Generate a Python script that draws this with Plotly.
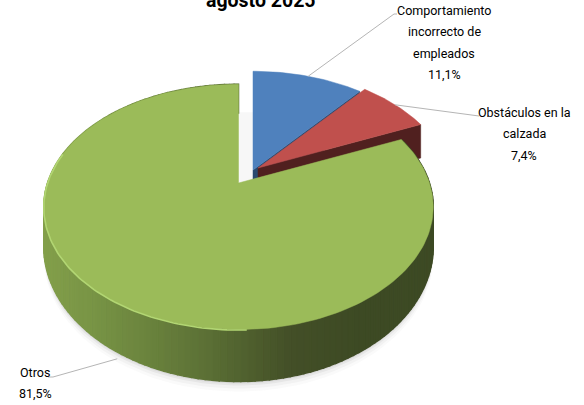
import numpy as np
import plotly.graph_objects as go

# data
labels = [["Comportamiento", "incorrecto de", "empleados"], ["Obstáculos en la", "calzada"], ["Otros"]]
values = [11.1, 7.4, 81.5]
title_text = "agosto 2025"

top_colors = ["#4f81bd", "#c0504d", "#9bbb59"]
cut_colors = ["#2b4a70", "#50201f", "#5f7536"]

# tilted pie: apex of each (exploded) slice on the page
apex = [(253, 170), (258, 168), (238.5, 183)]
R, K, P, D = 191, 118, 0.195, 37.5

# label blocks: centre x, first line y
label_pos = [(444, 10), (524, 112), (35, 372)]
leader_end = [(394, 14), (476, 116), (53, 377)]
LINE = 21.5
FONT = "Roboto"


def project(apx, ang, r=1.0, depth=False):
    # ang in degrees, clockwise from the top
    a = np.radians(ang)
    u, v = r * np.sin(a), r * np.cos(a)
    w = 1 + P * v
    x = apx[0] + R * u / w
    y = apx[1] - K * v / w
    if depth:
        y = y + D / w ** 1.5
    return x, y


def poly(fig, x, y, color, line=None, width=0.5):
    fig.add_trace(go.Scatter(x=x, y=y, mode="lines", fill="toself", fillcolor=color,
                             line=dict(color=line or color, width=width),
                             hoverinfo="skip", showlegend=False))


def wall_color(x):
    # lighter on the left of the rim, dark on the right
    xs = [40, 100, 200, 290, 360, 435]
    r = np.interp(x, xs, [132, 118, 93, 67, 61, 61])
    g = np.interp(x, xs, [160, 146, 114, 79, 74, 74])
    b = np.interp(x, xs, [75, 68, 54, 39, 36, 36])
    return f"rgb({r:.0f},{g:.0f},{b:.0f})"


fig = go.Figure()

edges = np.cumsum([0] + values) * 3.6
start = edges[:-1]
stop = edges[1:]

# soft shadow below the pie
ang = np.linspace(90, 290, 80)
for grow, alpha in zip([10, 7, 4, 2], [0.03, 0.05, 0.07, 0.09]):
    sx, sy = project(apex[2], ang, 1.0, True)
    poly(fig, list(sx) + [sx[0]], list(sy + grow) + [sy[0]], f"rgba(90,90,90,{alpha})", "rgba(0,0,0,0)", 0)

# faint shade in the gap between the slices
gx, gy = project(apex[2], np.array([0.0, 0.0]), np.array([0.68, 0.0]))
fig.add_shape(type="rect", x0=gx[0], x1=apex[0][0], y0=gy[0], y1=gy[1],
              fillcolor="rgba(150,150,150,0.08)", line_width=0, layer="below")

# cut faces of blue and red
for i in [0, 1]:
    x1, y1 = project(apex[i], stop[i])
    x2, y2 = project(apex[i], stop[i], 1.0, True)
    x3, y3 = project(apex[i], 0.0, 0.0, True)
    poly(fig, [apex[i][0], x1, x2, x3, apex[i][0]], [apex[i][1], y1, y2, y3, apex[i][1]], cut_colors[i])

# top faces of blue and red
for i in [0, 1]:
    ang = np.linspace(start[i], stop[i], 40)
    x, y = project(apex[i], ang)
    poly(fig, [apex[i][0]] + list(x) + [apex[i][0]], [apex[i][1]] + list(y) + [apex[i][1]], top_colors[i])

# green rim as thin strips, shaded along the page
steps = np.linspace(start[2], stop[2], 170)
for a0, a1 in zip(steps[:-1], steps[1:]):
    x0, y0 = project(apex[2], a0)
    x1, y1 = project(apex[2], a1)
    x2, y2 = project(apex[2], a1, 1.0, True)
    x3, y3 = project(apex[2], a0, 1.0, True)
    c = wall_color((x0 + x1) / 2)
    poly(fig, [x0, x1, x2, x3, x0], [y0, y1, y2, y3, y0], c, c, 1.5)

# green top
ang = np.linspace(start[2], stop[2], 200)
x, y = project(apex[2], ang)
poly(fig, [apex[2][0]] + list(x) + [apex[2][0]], [apex[2][1]] + list(y) + [apex[2][1]], top_colors[2])

# bright bevel on the near edge of green
ang = np.linspace(178, 285, 90)
x, y = project(apex[2], ang)
fig.add_trace(go.Scatter(x=x, y=y + 0.5, mode="lines", line=dict(color="#b2d673", width=1.6),
                         hoverinfo="skip", showlegend=False))

# leaders and labels
mid = (start + stop) / 2
for i in range(3):
    lx, ly = project(apex[i], mid[i], 1.0, i == 2)
    if i == 2:
        lx, ly = lx + 4, ly + 9
    tail = 3 if i < 2 else -5
    fig.add_trace(go.Scatter(x=[lx, leader_end[i][0], leader_end[i][0] + tail],
                             y=[ly, leader_end[i][1], leader_end[i][1]], mode="lines",
                             line=dict(color="#b5b5b5", width=1), hoverinfo="skip", showlegend=False))
    lines = labels[i] + [f"{values[i]:.1f}%".replace(".", ",")]
    for j, t in enumerate(lines):
        fig.add_annotation(x=label_pos[i][0], y=label_pos[i][1] + j * LINE, text=t, showarrow=False,
                           xanchor="center", yanchor="middle",
                           font=dict(family=FONT, size=12.5, color="#000000"))

# title is cut by the top of the picture, as in the original
fig.add_annotation(xref="paper", yref="paper", x=261 / 584, y=1.0, text=f"<b>{title_text}</b>", showarrow=False,
                   xanchor="center", yanchor="middle", font=dict(family=FONT, size=19.5, color="#000000"))

fig.update_xaxes(range=[0, 584], visible=False, fixedrange=True)
fig.update_yaxes(range=[405, 0], visible=False, fixedrange=True)
fig.update_layout(width=584, height=405, margin=dict(l=0, r=0, t=0, b=0),
                  paper_bgcolor="white", plot_bgcolor="white", showlegend=False)

fig.write_html("out.html", config={"displayModeBar": False},
               post_script="document.body.style.margin='0';document.body.style.overflow='hidden';")
